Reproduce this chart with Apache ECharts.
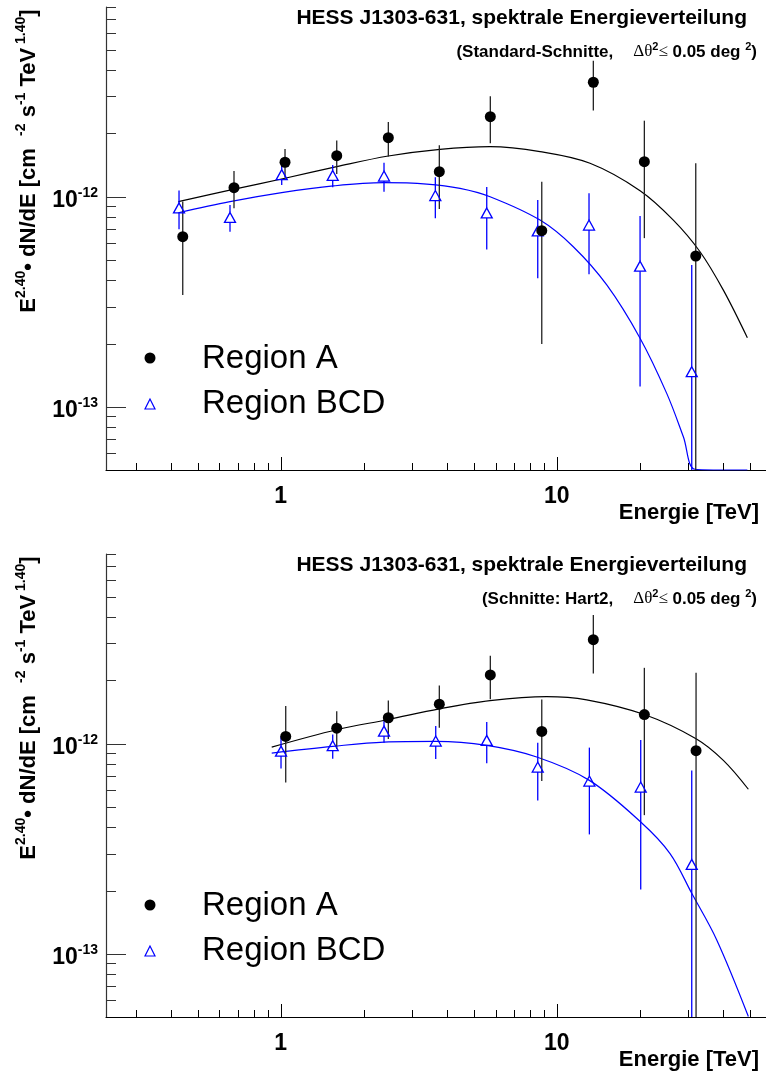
<!DOCTYPE html>
<html>
<head>
<meta charset="utf-8">
<script src="https://cdn.jsdelivr.net/npm/echarts@6/dist/echarts.min.js"></script>
<style>
  html, body { margin: 0; padding: 0; background: #fff; }
  #chart { width: 766px; height: 1075px; }
</style>
</head>
<body>
<div id="chart"></div>
<script>
// Spectral energy distribution of HESS J1303-631: E^2.4 * dN/dE versus energy (TeV)
// Upper panel: standard cuts; lower panel: hard cuts (Hart2).

// ---- upper panel, Region A (filled circles), symmetric errors ----
const topA_E   = [0.4416, 0.6772, 1.0365, 1.5956, 2.454, 3.755, 5.746, 8.826, 13.57, 20.77, 31.89];
const topA_F   = [6.45e-13, 1.104e-12, 1.459e-12, 1.567e-12, 1.910e-12, 1.315e-12, 2.404e-12, 6.89e-13, 3.506e-12, 1.468e-12, 5.22e-13];
const topA_err = [3.05e-13, 2.22e-13, 2.28e-13, 2.85e-13, 3.57e-13, 4.42e-13, 6.05e-13, 4.9e-13, 9.36e-13, 8.33e-13, 9.2e-13];

// ---- upper panel, Region BCD (open triangles) ----
const topB_E   = [0.4281, 0.655, 1.0083, 1.543, 2.367, 3.632, 5.577, 8.535, 13.09, 20.04, 30.84];
const topB_F   = [8.84e-13, 7.97e-13, 1.274e-12, 1.262e-12, 1.254e-12, 1.013e-12, 8.37e-13, 6.87e-13, 7.33e-13, 4.67e-13, 1.468e-13];
const topB_err = [1.85e-13, 1.16e-13, 1.37e-13, 1.53e-13, 1.98e-13, 2.24e-13, 2.76e-13, 2.78e-13, 3.06e-13, 3.42e-13, 3.26e-13];

// ---- upper panel, fitted spectra ----
const topFitA_E = [0.4256, 0.673, 1.036, 1.595, 2.454, 3.777, 5.733, 8.70, 13.20, 20.04, 26.45, 33.05, 40.15, 49.05];
const topFitA_F = [9.47e-13, 1.084e-12, 1.224e-12, 1.390e-12, 1.562e-12, 1.681e-12, 1.730e-12, 1.638e-12, 1.442e-12, 1.068e-12, 7.74e-13, 5.47e-13, 3.59e-13, 2.13e-13];
const topFitB_E = [0.4256, 0.655, 1.008, 1.551, 2.353, 3.381, 4.463, 5.733, 8.70, 11.48, 15.18, 20.04, 25.03, 28.76, 31.70, 40.15, 49.05];
const topFitB_F = [8.39e-13, 9.47e-13, 1.045e-12, 1.125e-12, 1.166e-12, 1.149e-12, 1.096e-12, 1.0e-12, 7.74e-13, 5.78e-13, 3.80e-13, 2.12e-13, 1.158e-13, 7.20e-14, 5.04e-14, 5.0e-14, 5.0e-14];

// ---- lower panel, Region A ----
const botA_E   = [1.0426, 1.5956, 2.454, 3.755, 5.746, 8.826, 13.57, 20.77, 31.97];
const botA_F   = [1.083e-12, 1.186e-12, 1.329e-12, 1.542e-12, 2.126e-12, 1.144e-12, 3.128e-12, 1.377e-12, 9.26e-13];
const botA_err = [4.3e-13, 2.42e-13, 2.75e-13, 3.52e-13, 5.0e-13, 4.8e-13, 9.7e-13, 9.2e-13, 1.25e-12];

// ---- lower panel, Region BCD ----
const botB_E   = [1.0025, 1.543, 2.367, 3.644, 5.577, 8.535, 13.13, 20.15, 30.84];
const botB_F   = [9.22e-13, 9.78e-13, 1.148e-12, 1.029e-12, 1.037e-12, 7.74e-13, 6.64e-13, 6.22e-13, 2.664e-13];
const botB_err = [1.6e-13, 1.29e-13, 1.38e-13, 1.84e-13, 2.3e-13, 2.37e-13, 2.94e-13, 4.2e-13, 4.8e-13];

// ---- lower panel, fitted spectra ----
const botFitA_E = [0.9277, 1.5956, 2.454, 3.755, 5.733, 9.20, 12.84, 20.77, 31.97, 40.15, 49.46];
const botFitA_F = [9.63e-13, 1.165e-12, 1.304e-12, 1.466e-12, 1.605e-12, 1.677e-12, 1.618e-12, 1.377e-12, 1.056e-12, 8.33e-13, 6.07e-13];
const botFitB_E = [0.9277, 1.543, 2.367, 3.644, 5.577, 8.462, 13.13, 20.15, 25.73, 30.84, 37.99, 49.46];
const botFitB_F = [9.02e-13, 9.71e-13, 1.018e-12, 1.025e-12, 9.81e-13, 8.64e-13, 6.69e-13, 4.24e-13, 3.00e-13, 1.94e-13, 1.164e-13, 5.03e-14];

// ---- axis ranges and tick positions ----
const E_MIN = 0.2328, E_MAX = 57.3;
const F_MIN = 5e-14, F_MAX = 8e-12;
const xMajorTicks = [1, 10];
const xMinorTicks = [0.3, 0.4, 0.5, 0.6, 0.7, 0.8, 0.9, 2, 3, 4, 5, 6, 7, 8, 9, 20, 30, 40, 50];
const yMajorTicks = [1e-13, 1e-12];
const yMinorTicks = [6e-14, 7e-14, 8e-14, 9e-14, 2e-13, 3e-13, 4e-13, 5e-13, 6e-13, 7e-13, 8e-13, 9e-13,
                     2e-12, 3e-12, 4e-12, 5e-12, 6e-12, 7e-12, 8e-12];

// ---- texts ----
const titleText = 'HESS J1303-631, spektrale Energieverteilung';
const cutLabels = ['Standard-Schnitte,', 'Schnitte: Hart2,'];
const legendNames = ['Region A', 'Region BCD'];
const xTitle = 'Energie [TeV]';

const FONT = '"Liberation Sans", Arial, Helvetica, sans-serif';
const SERIF = '"Liberation Serif", "DejaVu Serif", serif';
const BLUE = '#0000ff';

const chart = echarts.init(document.getElementById('chart'), null, { renderer: 'canvas' });

const panelTop = [7, 554];
const PANEL_H = 463;

function isDecade(v) {
  const l = Math.log10(v);
  return Math.abs(l - Math.round(l)) < 1e-6;
}

function xAxisFor(i) {
  return {
    type: 'log', logBase: 10, gridIndex: i, min: E_MIN, max: E_MAX,
    axisLine: { show: true, onZero: false, lineStyle: { color: '#000', width: 1.2 } },
    axisTick: { show: false }, minorTick: { show: false }, splitLine: { show: false },
    axisLabel: {
      show: true, showMinLabel: false, showMaxLabel: false, margin: 15,
      color: '#000', fontFamily: FONT, fontWeight: 'bold', fontSize: 23,
      formatter: v => isDecade(v) ? String(Math.round(v)) : ''
    }
  };
}

function yAxisFor(i) {
  return {
    type: 'log', logBase: 10, gridIndex: i, min: F_MIN, max: F_MAX, position: 'left',
    axisLine: { show: true, onZero: false, lineStyle: { color: '#333', width: 1.2 } },
    axisTick: { show: false }, minorTick: { show: false }, splitLine: { show: false },
    axisLabel: {
      show: true, showMinLabel: false, showMaxLabel: false, margin: 8,
      formatter: v => isDecade(v) ? '{b|10}{s|' + Math.round(Math.log10(v)) + '}' : '',
      rich: {
        b: { fontFamily: FONT, fontWeight: 'bold', fontSize: 23, color: '#000', lineHeight: 28, padding: [8, 0, 0, 0] },
        s: { fontFamily: FONT, fontWeight: 'bold', fontSize: 14, color: '#000', lineHeight: 14, verticalAlign: 'top', padding: [3, 0, 0, 0] }
      }
    }
  };
}

function vline(x, y1, y2, color) {
  return { type: 'line', shape: { x1: x, y1: y1, x2: x, y2: y2 }, style: { stroke: color, lineWidth: 1.3 } };
}

// tick marks drawn inward from the axes, long for decades, short in between
function xTickSeries(i) {
  const data = xMajorTicks.map(v => [v, F_MIN, 1]).concat(xMinorTicks.map(v => [v, F_MIN, 0]));
  return {
    type: 'custom', xAxisIndex: i, yAxisIndex: i, silent: true, z: 8, clip: false, data,
    renderItem: (params, api) => {
      const cs = params.coordSys;
      const x = Math.round(api.coord([api.value(0), api.value(1)])[0]) + 0.5;
      const yb = cs.y + cs.height;
      const len = api.value(2) ? 13 : 7;
      return { type: 'line', shape: { x1: x, y1: yb, x2: x, y2: yb - len }, style: { stroke: '#000', lineWidth: 1 } };
    }
  };
}

function yTickSeries(i) {
  const data = yMajorTicks.map(v => [E_MIN, v, 1]).concat(yMinorTicks.map(v => [E_MIN, v, 0]));
  return {
    type: 'custom', xAxisIndex: i, yAxisIndex: i, silent: true, z: 8, clip: false, data,
    renderItem: (params, api) => {
      const cs = params.coordSys;
      const y = Math.round(api.coord([api.value(0), api.value(1)])[1]) + 0.5;
      const len = api.value(2) ? 20 : 10;
      return { type: 'line', shape: { x1: cs.x, y1: y, x2: cs.x + len, y2: y }, style: { stroke: '#333', lineWidth: 1 } };
    }
  };
}

// vertical error bars; a gap is left around hollow markers
function errorSeries(i, E, F, err, color, gap, z) {
  const data = E.map((e, k) => [e, F[k], err[k]]);
  return {
    type: 'custom', xAxisIndex: i, yAxisIndex: i, silent: true, z, clip: true, data,
    renderItem: (params, api) => {
      const cs = params.coordSys;
      const e = api.value(0), f = api.value(1), d = api.value(2);
      const c = api.coord([e, f]);
      const yTop = Math.max(api.coord([e, f + d])[1], cs.y);
      const lo = f - d;
      const yBot = lo > F_MIN ? api.coord([e, lo])[1] : cs.y + cs.height;
      const x = c[0];
      const children = gap > 0
        ? [vline(x, yTop, c[1] - gap, color), vline(x, c[1] + gap, yBot, color)]
        : [vline(x, yTop, yBot, color)];
      return { type: 'group', children };
    }
  };
}

function fitSeries(i, E, F, color) {
  return {
    type: 'line', xAxisIndex: i, yAxisIndex: i, z: 2, silent: true,
    showSymbol: false, smooth: 0.35, clip: true,
    lineStyle: { color, width: 1.2 },
    data: E.map((e, k) => [e, F[k]])
  };
}

function pointsA(i, E, F) {
  return {
    type: 'scatter', name: legendNames[0], xAxisIndex: i, yAxisIndex: i, z: 6,
    symbol: 'circle', symbolSize: 11, itemStyle: { color: '#000', opacity: 1 },
    data: E.map((e, k) => [e, F[k]])
  };
}

function pointsB(i, E, F) {
  return {
    type: 'scatter', name: legendNames[1], xAxisIndex: i, yAxisIndex: i, z: 5,
    symbol: 'triangle', symbolSize: [11, 10],
    itemStyle: { color: 'rgba(255,255,255,0)', borderColor: BLUE, borderWidth: 1.3, opacity: 1 },
    data: E.map((e, k) => [e, F[k]])
  };
}

const series = [
  fitSeries(0, topFitA_E, topFitA_F, '#000'),
  fitSeries(0, topFitB_E, topFitB_F, BLUE),
  errorSeries(0, topA_E, topA_F, topA_err, '#222', 0, 3),
  errorSeries(0, topB_E, topB_F, topB_err, BLUE, 5, 4),
  pointsB(0, topB_E, topB_F),
  pointsA(0, topA_E, topA_F),
  xTickSeries(0), yTickSeries(0),

  fitSeries(1, botFitA_E, botFitA_F, '#000'),
  fitSeries(1, botFitB_E, botFitB_F, BLUE),
  errorSeries(1, botA_E, botA_F, botA_err, '#222', 0, 3),
  errorSeries(1, botB_E, botB_F, botB_err, BLUE, 5, 4),
  pointsB(1, botB_E, botB_F),
  pointsA(1, botA_E, botA_F),
  xTickSeries(1), yTickSeries(1)
];

// titles, legends and axis titles for each panel
const graphics = [];
panelTop.forEach((top, i) => {
  const dy = top - panelTop[0];
  graphics.push({
    type: 'text', x: 747, y: 18 + dy, z: 10,
    style: { text: titleText, fill: '#000', font: 'bold 21px ' + FONT, align: 'right', verticalAlign: 'middle' }
  });
  graphics.push({
    type: 'text', x: 757, y: 52 + dy, z: 10,
    style: {
      text: '{b|(' + cutLabels[i] + '}{g|\u0394\u03b8}{s|2}{h|\u2264}{b| 0.05 deg }{s|2}{b|)}',
      align: 'right', verticalAlign: 'middle',
      rich: {
        b: { fontFamily: FONT, fontWeight: 'bold', fontSize: 17, fill: '#000', lineHeight: 22 },
        g: { fontFamily: SERIF, fontSize: 17, fill: '#000', lineHeight: 22, padding: [0, 0, 0, 20] },
        h: { fontFamily: SERIF, fontSize: 17, fill: '#000', lineHeight: 22 },
        s: { fontFamily: FONT, fontWeight: 'bold', fontSize: 11, fill: '#000', lineHeight: 12, verticalAlign: 'top' }
      }
    }
  });
  // legend
  graphics.push({ type: 'circle', z: 10, shape: { cx: 150, cy: 358 + dy, r: 5.5 }, style: { fill: '#000' } });
  graphics.push({
    type: 'text', x: 202, y: 359 + dy, z: 10,
    style: { text: legendNames[0], fill: '#000', font: '33px ' + FONT, align: 'left', verticalAlign: 'middle' }
  });
  graphics.push({
    type: 'polygon', z: 10,
    shape: { points: [[150, 399 + dy], [145, 409 + dy], [155, 409 + dy]] },
    style: { fill: 'none', stroke: BLUE, lineWidth: 1.2 }
  });
  graphics.push({
    type: 'text', x: 202, y: 404 + dy, z: 10,
    style: { text: legendNames[1], fill: '#000', font: '33px ' + FONT, align: 'left', verticalAlign: 'middle' }
  });
  // x axis title
  graphics.push({
    type: 'text', x: 759, y: 513 + dy, z: 10,
    style: { text: xTitle, fill: '#000', font: 'bold 22px ' + FONT, align: 'right', verticalAlign: 'middle' }
  });
  // y axis title, rotated
  graphics.push({
    type: 'text', x: 29, y: 161 + dy, rotation: Math.PI / 2, z: 10,
    style: {
      text: '{b|E}{s|2.40}{b|\u2022 dN/dE [cm  }{s|-2}{b| s}{s|-1}{b| TeV}{s| 1.40}{b|]}',
      align: 'center', verticalAlign: 'middle',
      rich: {
        b: { fontFamily: FONT, fontWeight: 'bold', fontSize: 22, fill: '#000', lineHeight: 30 },
        s: { fontFamily: FONT, fontWeight: 'bold', fontSize: 14, fill: '#000', lineHeight: 14, verticalAlign: 'top' }
      }
    }
  });
});

chart.setOption({
  animation: false,
  backgroundColor: '#fff',
  grid: panelTop.map(t => ({ left: 106, top: t, width: 660, height: PANEL_H, containLabel: false })),
  xAxis: [xAxisFor(0), xAxisFor(1)],
  yAxis: [yAxisFor(0), yAxisFor(1)],
  series,
  graphic: graphics
});
</script>
</body>
</html>
